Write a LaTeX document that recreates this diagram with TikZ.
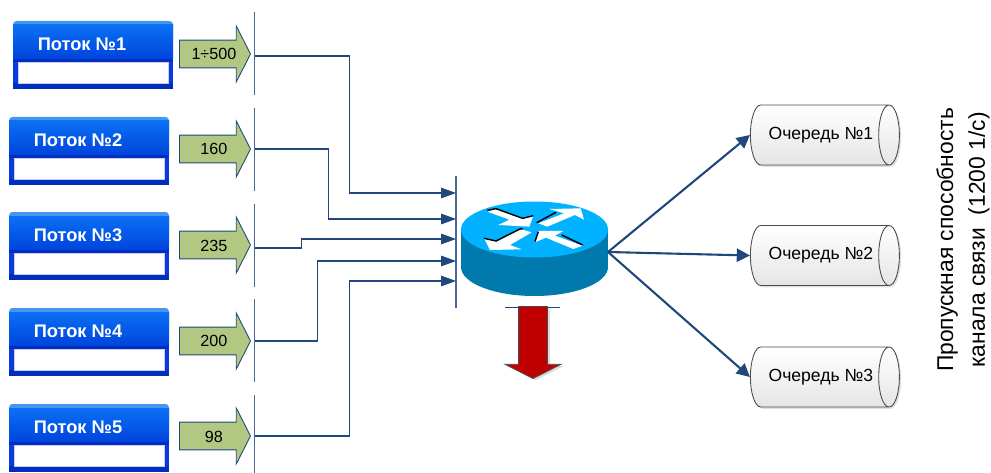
\documentclass[tikz,border=0pt]{standalone}
\usepackage{fontspec}
\setmainfont{Liberation Sans}
\definecolor{linkblue}{RGB}{31,73,125}
\definecolor{barblue}{RGB}{70,105,150}
\definecolor{flowtop}{RGB}{10,112,245}
\definecolor{flowbot}{RGB}{0,68,220}
\definecolor{flowstrip}{RGB}{70,150,240}
\definecolor{flowdark}{RGB}{0,46,190}
\definecolor{flowside}{RGB}{8,60,222}
\definecolor{ratefill}{RGB}{178,200,130}
\definecolor{routertop}{RGB}{0,178,255}
\definecolor{routerside}{RGB}{0,121,172}
\definecolor{dropred}{RGB}{192,0,0}
\usetikzlibrary{arrows.meta, positioning, shapes.geometric, shapes.arrows, shadows}

\tikzset{
  flowtext/.style={text=white, font=\fontsize{10.4}{12}\bfseries\selectfont, inner sep=0pt},
  ratearrow/.style={single arrow, draw=linkblue, fill=ratefill, line width=0.5pt, inner sep=0pt,
    minimum height=14.2mm, minimum width=11mm, single arrow head extend=2.8mm,
    text height=3.9mm, text depth=1.5mm,
    single arrow tip angle=126, font=\fontsize{9.2}{11}\selectfont, anchor=tip},
  bar/.style={barblue, line width=0.6pt},
  flowline/.style={linkblue, line width=0.6pt, -{Triangle[length=8.5pt, width=6pt]}},
  outline/.style={linkblue, line width=1.2pt, -{Triangle[length=7.5pt, width=7.5pt]}},
  queue/.style={cylinder, draw=black!70, line width=0.5pt, top color=white, bottom color=black!10,
    minimum height=29.8mm, minimum width=12mm, aspect=1.3, inner sep=0pt,
    drop shadow={shadow xshift=1pt, shadow yshift=-1pt, opacity=0.25},
    font=\fontsize{10}{12}\selectfont}
}

\begin{document}
\begin{tikzpicture}[x=0.02cm, y=-0.02cm]
  \useasboundingbox (0,0) rectangle (991,473);

  % flows
  \foreach \i/\bx/\by/\val/\ay/\ly/\bt/\bb in {1/13/21/1÷500/54/56/12/95, 2/9/117/160/149/149/108/191,
      3/9/212/235/245/248/204/287, 4/9/308/200/341/341/299/382, 5/9/404/98/436/436/395/473} {
    \fill[flowside] (\bx,\by+36) rectangle (\bx+160,\by+68);
    \fill[flowdark] (\bx,\by+62) rectangle (\bx+160,\by+68);
    \draw[fill=white, draw=black!15!blue!20] (\bx+5,\by+41) rectangle (\bx+155,\by+62);
    \fill[flowstrip, rounded corners=2pt] (\bx,\by+20) -- (\bx,\by) -- (\bx+160,\by) -- (\bx+160,\by+20) -- cycle;
    \shade[top color=flowtop, bottom color=flowbot] (\bx,\by+4) rectangle (\bx+160,\by+38);
    \fill[flowdark] (\bx,\by+38) rectangle (\bx+160,\by+41);
    \node[flowtext] (flow\i) at (\bx+69,\by+23) {Поток №\i};
    \node[ratearrow] (rate\i) at (251,\ay) {\hspace*{2.8pt}\val};
    \draw[bar] (254.5,\bt) -- (254.5,\bb);
    \coordinate (out\i) at (254.5,\ly);
  }

  % inputs of the router
  \draw[bar] (456,176) -- (456,308);
  \foreach \i/\y in {1/193, 2/219, 3/239, 4/261, 5/281} \coordinate (in\i) at (456,\y);

  \draw[flowline] (out1) -- ++(95,0) |- (in1);
  \draw[flowline] (out2) -- ++(74,0) |- (in2);
  \draw[flowline] (out3) -- ++(47,0) |- (in3);
  \draw[flowline] (out4) -- ++(63,0) |- (in4);
  \draw[flowline] (out5) -- ++(95,0) |- (in5);

  % router
  \fill[routerside] (461,229) rectangle (608,267);
  \fill[routerside] (534.5,267) ellipse (73.5 and 29);
  \fill[routertop] (534.5,229.5) ellipse (73.5 and 28);
  \begin{scope}[shift={(470,195)}, scale=0.3333]
    \fill[white] (52,50) -- (76,42) -- (158,72) -- (190,62) -- (178,95) -- (85,90) -- (118,74) -- cycle;
    \fill[white] (238,42) -- (332,40) -- (342,74) -- (315,60) -- (232,95) -- (205,85) -- (282,55) -- cycle;
    \fill[white] (42,130) -- (80,140) -- (150,102) -- (185,112) -- (120,150) -- (155,163) -- (60,165) -- cycle;
    \fill[white] (195,142) -- (205,108) -- (280,108) -- (255,122) -- (338,152) -- (310,162) -- (228,128) -- cycle;
    \draw[black, line width=0.8pt] (52,46) -- (78,41) -- (158,70) -- (190,62);
    \draw[black, line width=0.8pt] (200,83) -- (258,52);
    \draw[black, line width=0.8pt] (42,130) -- (78,138) -- (150,102) -- (158,101);
    \draw[black, line width=0.8pt] (195,140) -- (205,110);
    \draw[black, line width=0.8pt] (275,120) -- (338,150);
  \end{scope}
  \coordinate (routerout) at (608,252);

  % drop
  \draw[linkblue, line width=0.5pt] (505,307) -- (560,307);
  \node[single arrow, draw=black!70, fill=dropred, line width=0.5pt, inner sep=0pt,
    minimum height=14.4mm, minimum width=11mm, single arrow head extend=2.7mm, text width=5.6mm,
    single arrow tip angle=126, shape border rotate=270, anchor=tip,
    drop shadow={shadow xshift=1.5pt, shadow yshift=-1pt, opacity=0.3}] (drop) at (533,379) {};

  % queues
  \node[queue] (queue1) at (819.5,135) {\hspace*{1.6pt}Очередь №1};
  \node[queue] (queue2) at (819.5,255.5) {\hspace*{1.6pt}Очередь №2};
  \node[queue] (queue3) at (819.5,377) {\hspace*{1.6pt}Очередь №3};
  \draw[outline] (routerout) -- (queue1.west);
  \draw[outline] (routerout) -- (queue2.west);
  \draw[outline] (routerout) -- (queue3.west);

  \node[rotate=90, align=center, inner sep=0pt, font=\fontsize{13}{18}\selectfont] (capacity) at (963,240)
    {Пропускная способность\\канала связи\ \ (1200 1/с)};
\end{tikzpicture}
\end{document}
